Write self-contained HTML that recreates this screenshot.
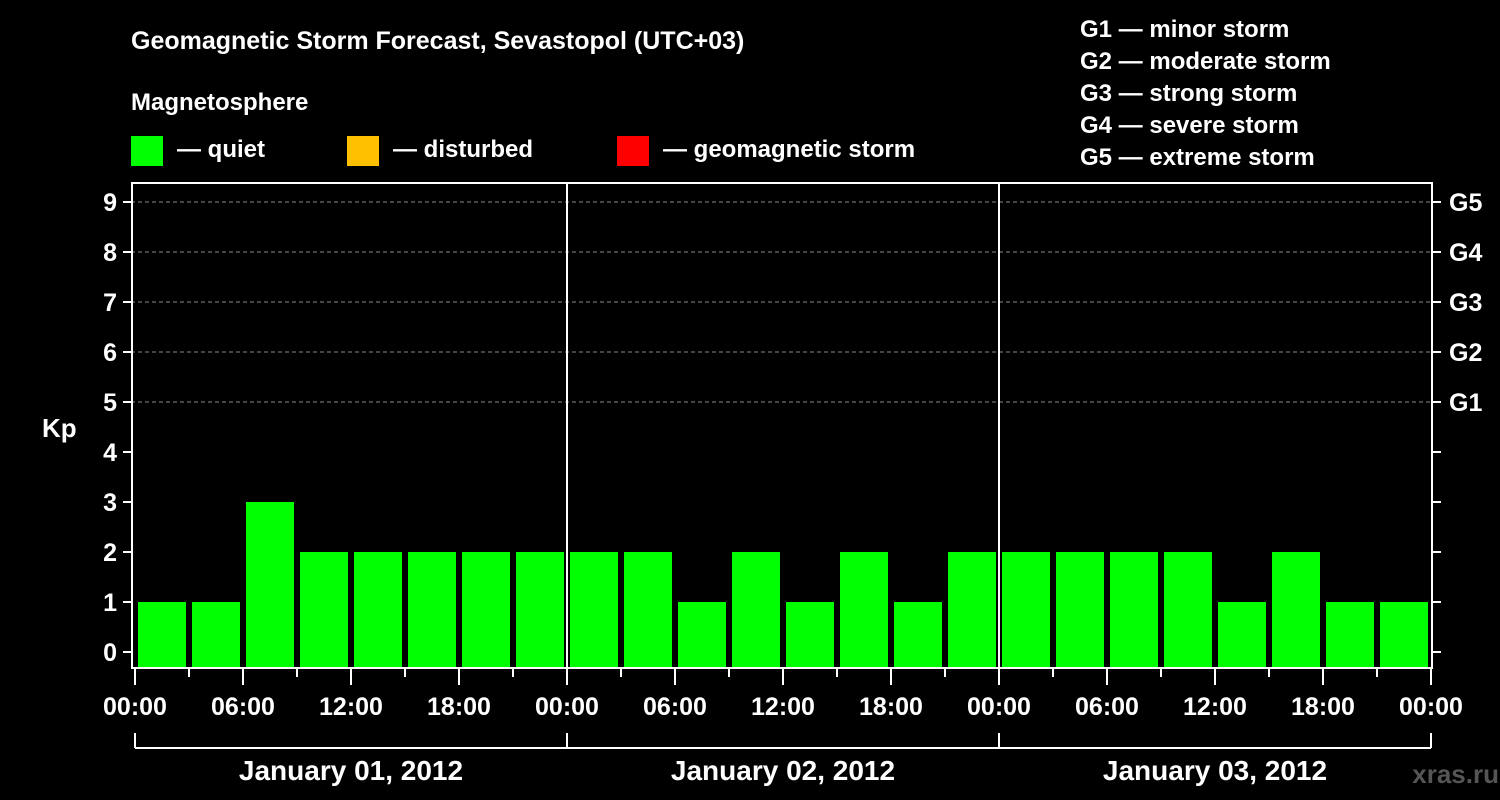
<!DOCTYPE html>
<html><head><meta charset="utf-8"><style>
html,body{margin:0;padding:0;background:#000;width:1500px;height:800px;overflow:hidden}
svg{display:block;font-family:"Liberation Sans",Arial,sans-serif;font-weight:bold}
</style></head><body>
<svg id="chart" width="1500" height="800" viewBox="0 0 1500 800">
<text x="131" y="49" fill="#fff" font-size="25">Geomagnetic Storm Forecast, Sevastopol (UTC+03)</text>
<text x="131" y="110" fill="#fff" font-size="24">Magnetosphere</text>
<g><rect x="131" y="136" width="32" height="30" fill="#00ff00"/><text x="177" y="157" fill="#fff" font-size="24">— quiet</text></g>
<g><rect x="347" y="136" width="32" height="30" fill="#ffc000"/><text x="393" y="157" fill="#fff" font-size="24">— disturbed</text></g>
<g><rect x="617" y="136" width="32" height="30" fill="#ff0000"/><text x="663" y="157" fill="#fff" font-size="24">— geomagnetic storm</text></g>
<g fill="#fff" font-size="24">
<text x="1080" y="37">G1 — minor storm</text><text x="1080" y="69">G2 — moderate storm</text><text x="1080" y="101">G3 — strong storm</text><text x="1080" y="133">G4 — severe storm</text><text x="1080" y="165">G5 — extreme storm</text></g>
<text x="42" y="437" fill="#fff" font-size="26">Kp</text>
<text x="1499" y="783" fill="#555" font-size="26" text-anchor="end">xras.ru</text>
<g id="grid"></g><g id="bars"></g><g id="axes"></g>
</svg>
<script>
const kpValues=[1,1,3,2,2,2,2,2, 2,2,1,2,1,2,1,2, 2,2,2,2,1,2,1,1];
const dayLabels=["January 01, 2012","January 02, 2012","January 03, 2012"];
const hourLabels=["00:00","06:00","12:00","18:00"];
const yTicks=[0,1,2,3,4,5,6,7,8,9];
const gLabels=["G1","G2","G3","G4","G5"];
const NS="http://www.w3.org/2000/svg";
const x0=135,dayW=432,slotW=dayW/8;
const xs=h=>x0+h/24*dayW;
const ys=v=>652-v*50;
function mk(t,a,p){const e=document.createElementNS(NS,t);for(const k in a)e.setAttribute(k,a[k]);p.appendChild(e);return e;}
const grid=document.getElementById('grid'),bars=document.getElementById('bars'),axes=document.getElementById('axes');
for(let v=5;v<=9;v++){const l=mk('line',{x1:131,x2:1433,y1:ys(v),y2:ys(v),stroke:'#888','stroke-dasharray':'4,3','stroke-width':1},grid);

}
kpValues.forEach((v,i)=>{const c=v>=5?'#ff0000':(v>=4?'#ffc000':'#00ff00');
const r=mk('rect',{x:xs(i*3)+3,y:ys(v),width:slotW-6,height:667-ys(v),fill:c},bars);

});
const frame=mk('rect',{x:132,y:183,width:1300,height:485,fill:'none',stroke:'#fff','stroke-width':2},axes);


for(let d=1;d<3;d++){const l=mk('line',{x1:xs(d*24),x2:xs(d*24),y1:183,y2:668,stroke:'#fff','stroke-width':2},axes);

}
yTicks.forEach(v=>{mk('line',{x1:123,x2:132,y1:ys(v),y2:ys(v),stroke:'#fff','stroke-width':2},axes);
mk('line',{x1:1432,x2:1441,y1:ys(v),y2:ys(v),stroke:'#fff','stroke-width':2},axes);
const t=mk('text',{x:117,y:ys(v)+9,fill:'#fff','font-size':25,'text-anchor':'end'},axes);t.textContent=v;

});
gLabels.forEach((g,i)=>{const t=mk('text',{x:1449,y:ys(i+5)+9,fill:'#fff','font-size':25},axes);t.textContent=g;

});
for(let h=0;h<=72;h+=3){const major=h%6===0;
mk('line',{x1:xs(h),x2:xs(h),y1:669,y2:major?685:677,stroke:'#fff','stroke-width':2},axes);
if(major){const t=mk('text',{x:xs(h),y:715,fill:'#fff','font-size':25,'text-anchor':'middle'},axes);t.textContent=hourLabels[(h%24)/6];

}}
mk('line',{x1:xs(0),x2:xs(72),y1:748,y2:748,stroke:'#fff','stroke-width':2},axes);
for(let d=0;d<=3;d++)mk('line',{x1:xs(d*24),x2:xs(d*24),y1:733,y2:748,stroke:'#fff','stroke-width':2},axes);
dayLabels.forEach((s,d)=>{const t=mk('text',{x:xs(d*24+12),y:780,fill:'#fff','font-size':28,'text-anchor':'middle'},axes);t.textContent=s;

});
</script>
</body></html>
